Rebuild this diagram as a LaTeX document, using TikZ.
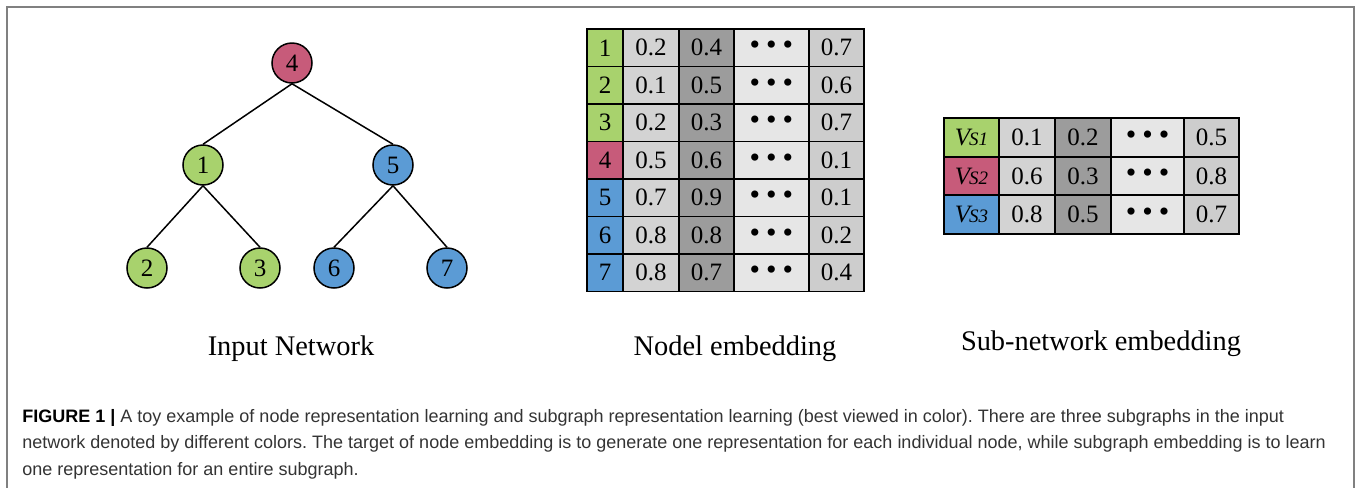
\documentclass[tikz,border=0pt]{standalone}
\usepackage{fontspec}
\setmainfont{Liberation Serif}
\newfontfamily\capfont{Liberation Sans}
\definecolor{sgreen}{HTML}{A8D26D}
\definecolor{spink}{HTML}{C75B7A}
\definecolor{sblue}{HTML}{5B9BD5}
\definecolor{gone}{HTML}{D3D3D3}
\definecolor{gtwo}{HTML}{9C9C9C}
\definecolor{gdots}{HTML}{E6E6E6}
\definecolor{glast}{HTML}{CDCDCD}
\definecolor{framegray}{HTML}{808080}
\definecolor{captext}{HTML}{333333}
\usetikzlibrary{positioning,calc}

\newcommand{\ddd}{{\fontsize{15}{15}\selectfont\textbullet\hspace{3pt}\textbullet\hspace{3pt}\textbullet}}
\newcommand{\vs}[1]{\textit{V\kern-0.6pt{\fontsize{9.5}{9.5}\selectfont S#1}}}

\begin{document}
\begin{tikzpicture}[x=0.5pt,y=-0.5pt,
      every node/.style={font=\fontsize{12.5}{13}\selectfont},
      vert/.style={circle,draw,line width=0.75pt,minimum size=20pt,inner sep=0pt},
      edge/.style={line width=0.75pt},
      cell/.style={draw,line width=0.9pt,inner sep=0pt,minimum height=18.75pt},
      cellb/.style={draw,line width=0.9pt,inner sep=0pt,minimum height=19.33pt},
      ttl/.style={font=\fontsize{14.2}{16}\selectfont}]
    \useasboundingbox (0,0) rectangle (1357,488);
    \draw[framegray,line width=1pt] (7,500) -- (7,7) -- (1354,7) -- (1354,500);

    % input network
    \node[vert,fill=spink] (n4) at (292,63) {4};
    \node[vert,fill=sgreen] (n1) at (203,165) {1};
    \node[vert,fill=sblue] (n5) at (393,165) {5};
    \node[vert,fill=sgreen] (n2) at (147,268) {2};
    \node[vert,fill=sgreen] (n3) at (260,268) {3};
    \node[vert,fill=sblue] (n6) at (334,268) {6};
    \node[vert,fill=sblue] (n7) at (447,268) {7};
    \draw[edge] (n4.south)--(n1.north); \draw[edge] (n4.south)--(n5.north);
    \draw[edge] (n1.south)--(n2.north); \draw[edge] (n1.south)--(n3.north);
    \draw[edge] (n5.south)--(n6.north); \draw[edge] (n5.south)--(n7.north);

    % node embedding
    \foreach \r/\c/\a/\b/\d [count=\i] in {1/sgreen/0.2/0.4/0.7, 2/sgreen/0.1/0.5/0.6, 3/sgreen/0.2/0.3/0.7,
        4/spink/0.5/0.6/0.1, 5/sblue/0.7/0.9/0.1, 6/sblue/0.8/0.8/0.2, 7/sblue/0.8/0.7/0.4} {
      \pgfmathsetmacro{\yy}{29+37.5*\i-18.75}
      \node[cell,fill=\c,minimum width=18pt] (e\i l) at (605,\yy) {\r};
      \node[cell,fill=gone,minimum width=28pt] (e\i a) at (651,\yy) {\a};
      \node[cell,fill=gtwo,minimum width=27.5pt] (e\i b) at (706.5,\yy) {\b};
      \node[cell,fill=gdots,minimum width=37.5pt] (e\i c) at (771.5,\yy) {\ddd};
      \node[cell,fill=glast,minimum width=27.5pt] (e\i d) at (836.5,\yy) {\d};
    }

    % sub-network embedding
    \foreach \r/\c/\a/\b/\d [count=\i] in {1/sgreen/0.1/0.2/0.5, 2/spink/0.6/0.3/0.8, 3/sblue/0.8/0.5/0.7} {
      \pgfmathsetmacro{\yy}{118+38.67*\i-19.33}
      \node[cellb,fill=\c,minimum width=27.5pt] (s\i l) at (971.5,\yy) {\vs{\r}};
      \node[cellb,fill=gone,minimum width=28pt] (s\i a) at (1027,\yy) {\a};
      \node[cellb,fill=gtwo,minimum width=28pt] (s\i b) at (1083,\yy) {\b};
      \node[cellb,fill=gdots,minimum width=36.5pt] (s\i c) at (1147.5,\yy) {\ddd};
      \node[cellb,fill=glast,minimum width=27.5pt] (s\i d) at (1211.5,\yy) {\d};
    }

    \node[ttl] (t1) at (291,349) {Input Network};
    \node[ttl] (t2) at (735,349) {Nodel embedding};
    \node[ttl] (t3) at (1101,344) {Sub-network embedding};

    \node[anchor=north west,align=left,inner sep=0pt,text=captext,
          font=\capfont\fontsize{9}{13.25}\selectfont\frenchspacing] (cap) at (22,409)
      {{\color{black}\textbf{FIGURE 1 \textbar}} A toy example of node representation learning and subgraph representation learning (best viewed in color). There are three subgraphs in the input\\
       network denoted by different colors. The target of node embedding is to generate one representation for each individual node, while subgraph embedding is to learn\\
       one representation for an entire subgraph.};
  \end{tikzpicture}
\end{document}
